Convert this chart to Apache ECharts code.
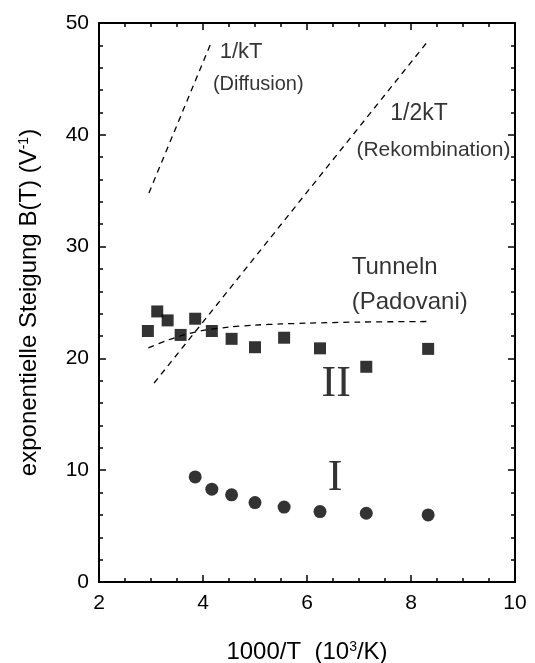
<!DOCTYPE html>
<html>
<head>
<meta charset="utf-8">
<script src="https://cdn.jsdelivr.net/npm/echarts@6/dist/echarts.min.js"></script>
<style>html,body{margin:0;padding:0;background:#fff}#c{width:535px;height:663px}</style>
</head>
<body>
<div id="c"></div>
<script>
// Sample I (circles)
const sampleI_x = [3.85, 4.17, 4.55, 5.00, 5.56, 6.25, 7.14, 8.33];
const sampleI_y = [9.4, 8.3, 7.8, 7.1, 6.7, 6.3, 6.15, 6.0];
// Sample II (squares)
const sampleII_x = [2.94, 3.12, 3.32, 3.57, 3.85, 4.17, 4.55, 5.00, 5.56, 6.25, 7.14, 8.33];
const sampleII_y = [22.45, 24.2, 23.4, 22.1, 23.55, 22.45, 21.75, 21.0, 21.85, 20.9, 19.25, 20.85];
// Theory lines
const diffusion_x = [2.96, 4.17];
const diffusion_y = [34.8, 48.4];
const rekomb_x = [3.06, 8.33];
const rekomb_y = [17.8, 48.4];
const tunnel_x = [2.95, 3.3, 3.6, 4.0, 4.5, 5.0, 5.5, 6.0, 7.0, 8.33];
const tunnel_y = [20.95, 21.6, 22.05, 22.5, 22.8, 22.98, 23.08, 23.15, 23.25, 23.3];
// Axis ticks
const xTicks = [2, 4, 6, 8, 10];
const yTicks = [0, 10, 20, 30, 40, 50];
// Annotations (data coordinates, left-anchored)
const annotText = ['1/kT', '(Diffusion)', '1/2kT', '(Rekombination)', 'Tunneln', '(Padovani)', 'II', 'I'];
const annotX = [4.32, 4.19, 7.6, 6.95, 6.86, 6.86, 6.28, 6.4];
const annotY = [47.4, 44.5, 41.9, 38.6, 28.1, 25.0, 17.7, 9.3];
const annotFont = [22, 20, 23, 21, 24, 24, 44, 44];
const annotFamily = ['Liberation Sans','Liberation Sans','Liberation Sans','Liberation Sans','Liberation Sans','Liberation Sans','Liberation Serif','Liberation Serif'];

const zip = (a, b) => a.map((v, i) => [v, b[i]]);
const chart = echarts.init(document.getElementById('c'), null, {renderer: 'canvas'});
const axisLine = {show: true, onZero: false, lineStyle: {color: '#000', width: 2}};
const tickBase = {show: true, inside: true, length: 7, lineStyle: {color: '#000', width: 1.5}};
const minorBase = {show: true, length: 4, lineStyle: {color: '#000', width: 1.5}};
const font = 'Liberation Sans';
const dash = {color: '#000', width: 1.3, type: [6, 5]};

chart.setOption({
  animation: false,
  grid: {left: 99, right: 20, top: 23, bottom: 81, containLabel: false, outerBoundsMode: 'none'},
  xAxis: [{
    type: 'value', min: xTicks[0], max: xTicks[xTicks.length - 1], interval: 2,
    position: 'bottom',
    axisLine, axisTick: tickBase, minorTick: Object.assign({splitNumber: 4}, minorBase),
    splitLine: {show: false},
    axisLabel: {color: '#000', fontSize: 21, fontFamily: font, margin: 11},
    name: '1000/T  (10{sup|3}/K)',
    nameLocation: 'middle', nameGap: 58,
    nameTextStyle: {color: '#000', fontSize: 24, fontFamily: font,
      rich: {sup: {fontSize: 14, fontFamily: font, color: '#000', verticalAlign: 'top', padding: [0,0,10,0]}}}
  }, {
    type: 'value', min: xTicks[0], max: xTicks[xTicks.length - 1], interval: 2,
    position: 'top',
    axisLine, axisTick: tickBase, minorTick: Object.assign({splitNumber: 4}, minorBase),
    splitLine: {show: false}, axisLabel: {show: false}
  }],
  yAxis: [{
    type: 'value', min: yTicks[0], max: yTicks[yTicks.length - 1], interval: 10,
    position: 'left',
    axisLine, axisTick: tickBase, minorTick: Object.assign({splitNumber: 5}, minorBase),
    splitLine: {show: false},
    axisLabel: {color: '#000', fontSize: 21, fontFamily: font, margin: 10},
    name: 'exponentielle Steigung B(T) (V{sup|-1})',
    nameLocation: 'middle', nameGap: 58, nameRotate: 90,
    nameTextStyle: {color: '#000', fontSize: 24, fontFamily: font,
      rich: {sup: {fontSize: 14, fontFamily: font, color: '#000', verticalAlign: 'top', padding: [0,0,10,0]}}}
  }, {
    type: 'value', min: yTicks[0], max: yTicks[yTicks.length - 1], interval: 10,
    position: 'right',
    axisLine, axisTick: tickBase, minorTick: Object.assign({splitNumber: 5}, minorBase),
    splitLine: {show: false}, axisLabel: {show: false}
  }],
  series: [
    {type: 'line', data: zip(diffusion_x, diffusion_y), showSymbol: false, symbol: 'none', lineStyle: dash, z: 2},
    {type: 'line', data: zip(rekomb_x, rekomb_y), showSymbol: false, symbol: 'none', lineStyle: dash, z: 2},
    {type: 'line', data: zip(tunnel_x, tunnel_y), showSymbol: false, symbol: 'none', smooth: 0.3, lineStyle: dash, z: 2},
    {type: 'scatter', data: zip(sampleII_x, sampleII_y), symbol: 'rect', symbolSize: 12, itemStyle: {color: '#000'}, z: 3},
    {type: 'scatter', data: zip(sampleI_x, sampleI_y), symbol: 'circle', symbolSize: 13, itemStyle: {color: '#000'}, z: 3},
    {type: 'scatter', symbolSize: 0, silent: true, z: 4,
      data: annotText.map((t, i) => ({
        value: [annotX[i], annotY[i]],
        label: {show: true, position: 'right', distance: 0, formatter: t,
          color: '#000', fontSize: annotFont[i], fontFamily: annotFamily[i]}
      }))}
  ]
});
</script>
</body>
</html>
